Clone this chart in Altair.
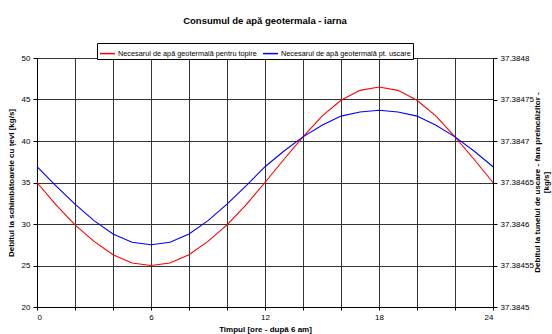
import altair as alt
import pandas as pd

hours = list(range(25))
red = [35.0, 32.3, 29.9, 27.9, 26.3, 25.3, 25.0, 25.3, 26.3, 27.9, 29.9, 32.3, 35.0,
       37.8, 40.5, 43.0, 44.9, 46.1, 46.5, 46.1, 44.9, 43.0, 40.5, 37.8, 35.0]
blue = [36.9, 34.6, 32.4, 30.4, 28.8, 27.8, 27.5, 27.8, 28.8, 30.4, 32.4, 34.6, 36.9,
        38.8, 40.5, 41.9, 43.0, 43.5, 43.7, 43.5, 43.0, 41.9, 40.5, 38.8, 36.9]
series_names = ["Necesarul de apă geotermală pentru topire",
                "Necesarul de apă geotermală pt. uscare"]
series_colors = ["#ff0000", "#0000ff"]
x_grid = list(range(0, 25, 2))
left_ticks = [20, 25, 30, 35, 40, 45, 50]
right_ticks = [37.3845, 37.38455, 37.3846, 37.38465, 37.3847, 37.38475, 37.3848]

df = pd.DataFrame({
    "t": hours + hours,
    "v": red + blue,
    "s": [series_names[0]] * len(hours) + [series_names[1]] * len(hours),
})

font = "Liberation Sans"

lines = alt.Chart(df).mark_line(strokeWidth=1.1).encode(
    x=alt.X("t:Q", scale=alt.Scale(domain=[0, 24], nice=False),
            axis=alt.Axis(values=x_grid,
                          labelExpr="datum.value % 6 == 0 ? datum.label : ''",
                          title="Timpul [ore - după 6 am]", grid=True,
                          gridColor="#333", gridWidth=1, domainColor="#000",
                          tickColor="#000", tickSize=3, labelFont=font,
                          labelFontSize=8, labelColor="#000", labelPadding=3,
                          titleFont=font, titleFontSize=8, titleFontWeight="bold",
                          titlePadding=4)),
    y=alt.Y("v:Q", scale=alt.Scale(domain=[20, 50], nice=False, zero=False),
            axis=alt.Axis(values=left_ticks, title="Debitul la schimbătoarele cu ţevi [kg/s]",
                          grid=True, gridColor="#333", gridWidth=1,
                          domainColor="#000", tickColor="#000", tickSize=4,
                          labelFont=font, labelFontSize=8, labelColor="#000",
                          labelPadding=3, titleFont=font, titleFontSize=8,
                          titleFontWeight="bold", titlePadding=6)),
    color=alt.Color("s:N", scale=alt.Scale(domain=series_names, range=series_colors),
                    legend=alt.Legend(title=None, orient="none", legendX=60, legendY=-15,
                                      direction="horizontal", symbolType="stroke",
                                      symbolSize=225, symbolStrokeWidth=1.5,
                                      labelFont=font, labelFontSize=7.3, labelColor="#000",
                                      strokeColor="#000", padding=2, columnPadding=3,
                                      labelOffset=2, fillColor="#fff")),
)

right = alt.Chart(pd.DataFrame({"r": right_ticks})).mark_point(opacity=0).encode(
    y=alt.Y("r:Q", scale=alt.Scale(domain=[37.3845, 37.3848], nice=False, zero=False),
            axis=alt.Axis(orient="right", values=right_ticks, format=".5~f",
                          title=["Debitul la tunelul de uscare - fara preîncălzitor -", "[kg/s]"],
                          titleAngle=270, titleX=44, titleY=124, titleBaseline="middle",
                          titleLineHeight=9.5, grid=False, domainColor="#000",
                          tickColor="#000", tickSize=4, labelFont=font,
                          labelFontSize=8, labelColor="#000", labelPadding=3,
                          titleFont=font, titleFontSize=8, titleFontWeight="bold")),
)

chart = alt.layer(lines, right).resolve_scale(y="independent").properties(
    width=456, height=249,
    title=alt.TitleParams("Consumul de apă geotermala - iarna", font=font, fontSize=9.5,
                          fontWeight="bold", color="#000", anchor="middle", offset=17),
    autosize=alt.AutoSizeParams(type="none"),
    padding={"left": 37, "top": 58, "right": 59, "bottom": 27},
).configure_view(stroke="#000", strokeWidth=1).configure(background="#fff")

chart.save("out.html", embed_options={"renderer": "svg", "actions": False})
